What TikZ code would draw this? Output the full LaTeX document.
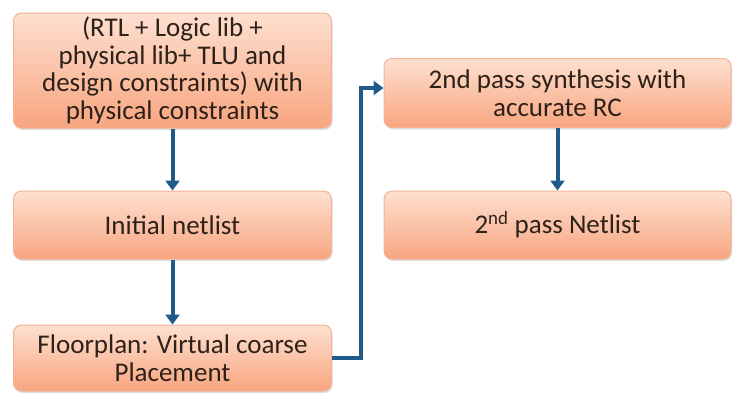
\documentclass[tikz,border=0pt]{standalone}
\usepackage{fontspec}
\setmainfont{Carlito}
\usetikzlibrary{arrows.meta,shadows}
\definecolor{boxtop}{HTML}{FDE0D0}
\definecolor{boxbot}{HTML}{F8A57F}
\definecolor{boxline}{HTML}{F2B396}
\definecolor{arrowc}{HTML}{1F5A8A}
\definecolor{txt}{HTML}{2E211A}
\tikzset{
  x=1pt, y=-1pt,
  flowbox/.style={draw=boxline, line width=1pt, rounded corners=8pt,
    top color=boxtop, bottom color=boxbot, text=txt,
    font=\fontsize{27}{27.5}\selectfont, align=center, inner sep=0pt,
    drop shadow={shadow xshift=1pt, shadow yshift=-2pt, opacity=0.25}},
  flowarrow/.style={draw=arrowc, line width=4pt, -{Triangle[length=10pt,width=14pt]}}
}
\begin{document}
\begin{tikzpicture}
\useasboundingbox (0,0) rectangle (733,394);
\node[flowbox, minimum width=318pt, minimum height=115pt] (inp) at (172.5,70.5)
  {(RTL + Logic lib +\\physical lib+ TLU and\\design constraints) with\\physical constraints};
\node[flowbox, minimum width=318pt, minimum height=68pt] (init) at (172.5,225)
  {Initial netlist};
\node[flowbox, minimum width=318pt, minimum height=66pt] (floor) at (172.5,358)
  {Floorplan: Virtual coarse\\Placement};
\node[flowbox, minimum width=347pt, minimum height=69pt] (syn) at (557.5,93)
  {2nd pass synthesis with\\accurate RC};
\node[flowbox, minimum width=347pt, minimum height=68pt] (net2) at (557.5,225)
  {2\textsuperscript{nd} pass Netlist};
\coordinate (k1) at (361,358);
\coordinate (k2) at (361,88);
\coordinate (k3) at (syn.west |- k2);
\draw[flowarrow] (inp.south) -- (init.north);
\draw[flowarrow] (init.south) -- (floor.north);
\draw[flowarrow] (syn.south) -- (net2.north);
\draw[flowarrow] (floor.east) -- (k1) -- (k2) -- (k3);
\end{tikzpicture}
\end{document}
